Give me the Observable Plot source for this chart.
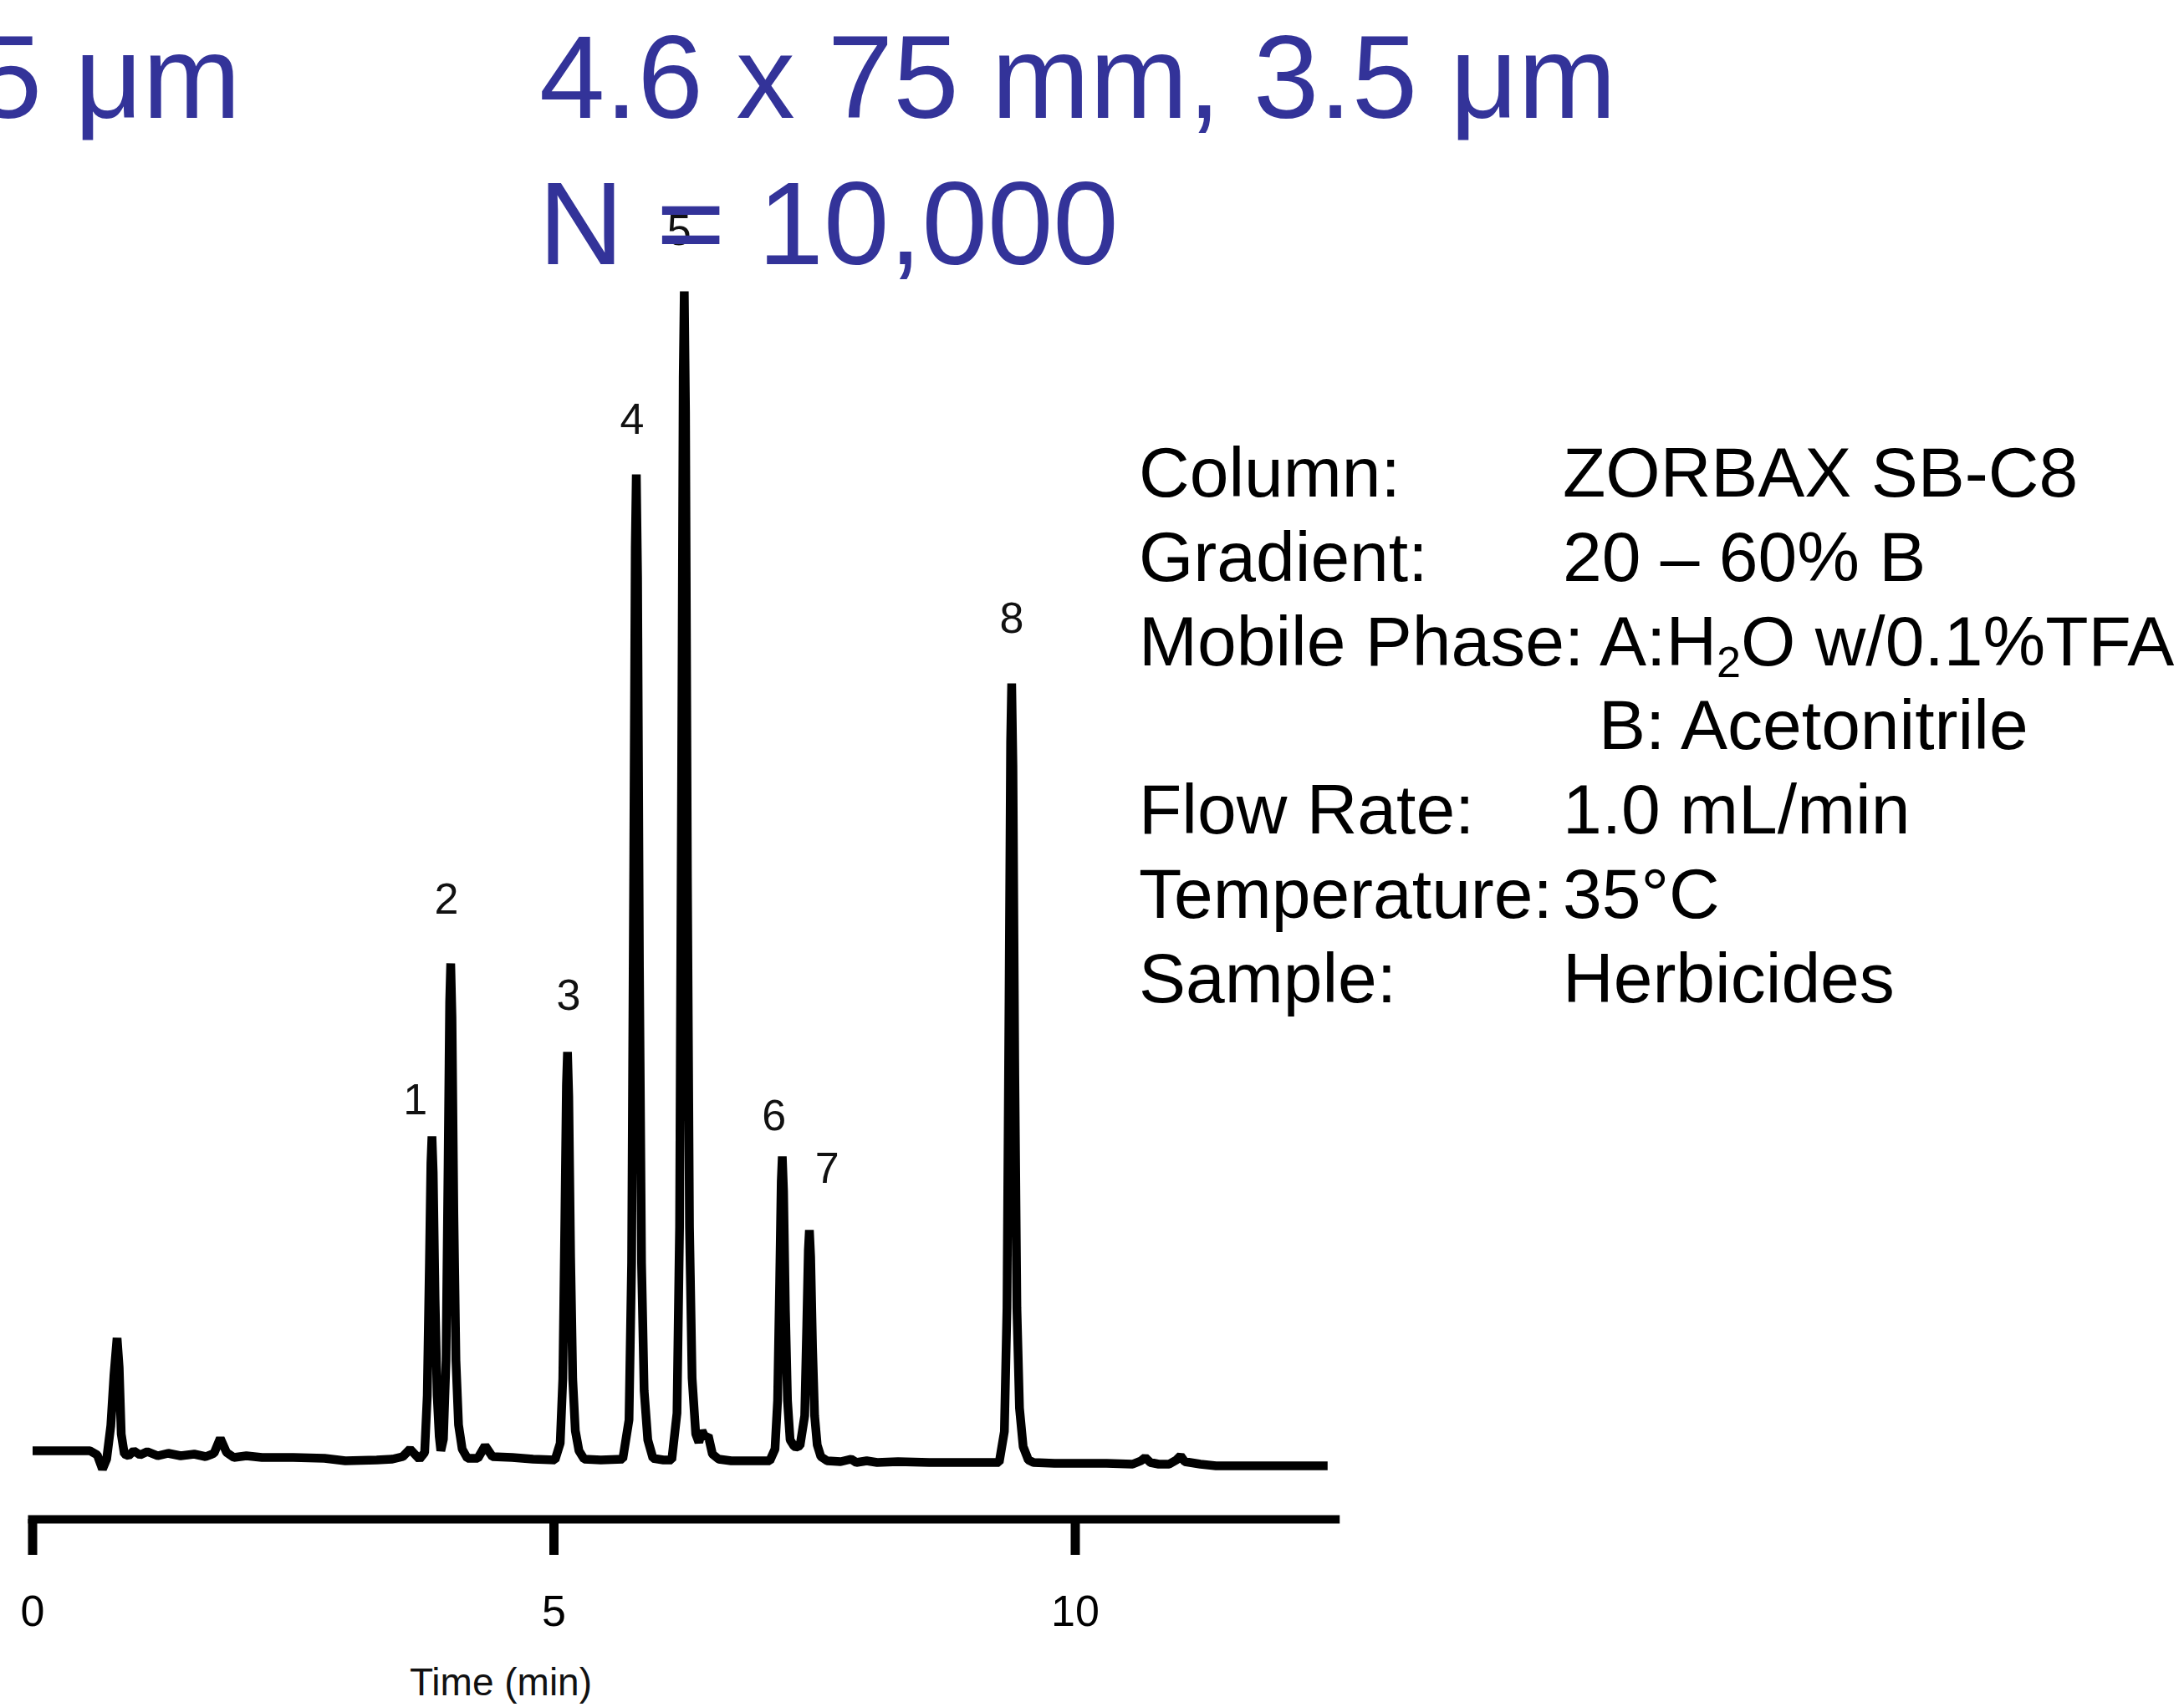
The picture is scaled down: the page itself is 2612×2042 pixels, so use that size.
<!DOCTYPE html>
<html>
<head>
<meta charset="utf-8">
<script src="https://cdn.jsdelivr.net/npm/d3@7"></script>
<script src="https://cdn.jsdelivr.net/npm/@observablehq/plot@0.6"></script>
<style>
  html, body { margin: 0; padding: 0; background: #fff; }
  #page { position: relative; width: 2612px; height: 2042px; overflow: hidden;
          font-family: "Liberation Sans", Arial, Helvetica, sans-serif; }
  #chart { position: absolute; left: 0; top: 0; }
  .title { position: absolute; color: #333399; font-size: 141px; line-height: 141px; white-space: nowrap; }
  #conditions { position: absolute; left: 1362px; top: 515px; font-size: 84px; line-height: 100.8px; color: #000; }
  #conditions .row { white-space: nowrap; height: 100.8px; }
  #conditions .k { display: inline-block; min-width: 507px; }
  #conditions sub { font-size: 0.62em; vertical-align: baseline; position: relative; top: 0.28em; line-height: 0; }
</style>
</head>
<body>
<div id="page">
  <div id="chart"></div>
  <div class="title" id="t0" style="right: 2324px; top: 22px;"></div>
  <div class="title" id="t1" style="left: 645px; top: 22px;"></div>
  <div class="title" id="t2" style="left: 644px; top: 197px;"></div>
  <div id="conditions"></div>
</div>
<script>
// Column headings shown above the trace
const titleLines = ["5 μm", "4.6 x 75 mm, 3.5 μm", "N = 10,000"];

// Method conditions
const conditionLabels = ["Column:", "Gradient:", "Mobile Phase:", "", "Flow Rate:", "Temperature:", "Sample:"];
const conditionValues = ["ZORBAX SB-C8", "20 – 60% B", "A:H2O w/0.1%TFA", "B: Acetonitrile", "1.0 mL/min", "35°C", "Herbicides"];

// Detector trace: retention time (min) and signal (arbitrary absorbance units)
const time = [
  0, 0.3, 0.55, 0.62, 0.67, 0.71, 0.75, 0.78, 0.81, 0.83, 0.85, 0.88, 0.92, 0.97,
  1.03, 1.1, 1.2, 1.3, 1.42, 1.55, 1.66, 1.74, 1.8, 1.86, 1.93, 2.05, 2.2, 2.5, 2.8,
  3.0, 3.3, 3.45, 3.55, 3.62, 3.68, 3.71, 3.76, 3.785, 3.805, 3.82, 3.83, 3.842, 3.86,
  3.88, 3.9, 3.915, 3.94, 3.965, 3.985, 4.0, 4.01, 4.022, 4.04, 4.06, 4.085, 4.12, 4.17,
  4.27, 4.34, 4.41, 4.6, 4.8, 5.01, 5.06, 5.085, 5.105, 5.12, 5.13, 5.142, 5.16, 5.18,
  5.205, 5.24, 5.29, 5.45, 5.66, 5.72, 5.745, 5.765, 5.78, 5.79, 5.802, 5.82, 5.84,
  5.865, 5.9, 5.95, 6.05, 6.13, 6.18, 6.205, 6.225, 6.24, 6.25, 6.262, 6.28, 6.3,
  6.325, 6.36, 6.39, 6.42, 6.45, 6.48, 6.52, 6.58, 6.7, 6.9, 7.07, 7.12, 7.145, 7.165,
  7.18, 7.19, 7.202, 7.22, 7.24, 7.265, 7.3, 7.32, 7.36, 7.405, 7.425, 7.44, 7.45,
  7.462, 7.48, 7.5, 7.525, 7.56, 7.62, 7.75, 7.85, 7.9, 8.0, 8.1, 8.3, 8.6, 8.9, 9.15,
  9.27, 9.32, 9.345, 9.365, 9.38, 9.39, 9.402, 9.42, 9.44, 9.465, 9.5, 9.55, 9.6, 9.8,
  10.0, 10.3, 10.55, 10.63, 10.67, 10.72, 10.8, 10.9, 10.97, 11.01, 11.05, 11.1, 11.2,
  11.35, 12.0, 12.42
];
const signal = [
  0, 0, 0, -0.5, -2.2, -1.0, 3.0, 9.0, 13.5, 10.0, 2.0, -0.4, -0.6, 0.0,
  -0.5, -0.1, -0.6, -0.3, -0.6, -0.4, -0.7, -0.3, 1.5, -0.2, -0.8, -0.6, -0.8, -0.8, -0.9,
  -1.2, -1.1, -1.0, -0.7, 0.2, -0.6, -1.0, -0.2, 6.6, 21.9, 34.4, 37.6, 33.3, 18.1,
  6.6, 1.7, 0.0, 1.4, 10.8, 34.3, 53.7, 58.3, 51.9, 28.4, 10.8, 3.1, 0.2, -0.9,
  -0.9, 0.6, -0.7, -0.8, -1.0, -1.1, 0.9, 8.6, 27.9, 43.8, 47.7, 42.4, 23.1, 8.6,
  2.4, 0.0, -1.0, -1.1, -1.0, 3.7, 22.5, 69.4, 108.1, 116.8, 104.6, 57.7, 22.5,
  7.2, 1.3, -0.9, -1.1, -1.1, 4.5, 26.8, 82.5, 128.5, 138.7, 124.3, 68.6, 26.8,
  8.7, 2.0, 1.0, 2.4, 1.6, 1.8, -0.4, -1.0, -1.2, -1.2, -1.2, 0.2, 6.0, 20.3,
  32.2, 35.2, 31.1, 16.8, 6.0, 1.3, 0.6, 0.4, 0.6, 4.2, 15.1, 24.0, 26.4,
  23.2, 12.4, 4.2, 0.7, -0.7, -1.2, -1.3, -1.0, -1.4, -1.2, -1.4, -1.3, -1.4, -1.4, -1.4,
  -1.4, 2.3, 17.1, 54.2, 84.8, 91.8, 82.0, 45.0, 17.1, 5.1, 0.5, -1.1, -1.4, -1.5,
  -1.5, -1.5, -1.6, -1.2, -0.8, -1.4, -1.6, -1.6, -1.1, -0.6, -1.3, -1.4, -1.6,
  -1.8, -1.8, -1.8
];

// Peak numbers and where their labels sit (time, signal)
const peakNumber = ["1", "2", "3", "4", "5", "6", "7", "8"];
const labelTime = [3.67, 3.97, 5.14, 5.75, 6.20, 7.11, 7.62, 9.39];
const labelSignal = [41.9, 65.9, 54.4, 123.3, 145.9, 40.0, 33.7, 99.5];

// Time axis
const timeDomain = [0, 12.5];
const timeTicks = [0, 5, 10];
const signalDomain = [-8.2, 150];
const axisTitle = "Time (min)";

// Headings
document.getElementById("t0").textContent = titleLines[0];
document.getElementById("t1").textContent = titleLines[1];
document.getElementById("t2").textContent = titleLines[2];

// Conditions table: labels in a fixed-width column, values aligned after it
const cond = document.getElementById("conditions");
conditionLabels.forEach((label, i) => {
  const row = document.createElement("div");
  row.className = "row";
  const k = document.createElement("span");
  k.className = "k";
  k.textContent = label;
  const v = document.createElement("span");
  v.innerHTML = conditionValues[i].replace("H2O", "H<sub>2</sub>O");
  if (label === "") v.style.paddingLeft = "43px";
  row.appendChild(k);
  row.appendChild(v);
  cond.appendChild(row);
  // a label longer than the column is followed by a normal word space
  if (k.getBoundingClientRect().width > 507.5) row.insertBefore(document.createTextNode(" "), v);
});

const trace = time.map((t, i) => ({t, v: signal[i]}));
const peaks = peakNumber.map((n, i) => ({n, t: labelTime[i], v: labelSignal[i]}));

const chart = Plot.plot({
  width: 2612,
  height: 2042,
  marginLeft: 38.5,
  marginRight: 1014.75,
  marginTop: 235,
  marginBottom: 225,
  x: {domain: timeDomain},
  y: {domain: signalDomain, axis: null},
  style: {fontFamily: '"Liberation Sans", Arial, Helvetica, sans-serif', background: "transparent", color: "#000", overflow: "visible"},
  marks: [
    Plot.ruleY([signalDomain[0]], {stroke: "#000", strokeWidth: 10, strokeLinecap: "square"}),
    Plot.axisX({ticks: timeTicks, tickSize: 43, tickPadding: 48, strokeWidth: 11, fontSize: 52, label: null, tickFormat: d => String(d)}),
    Plot.line(trace, {x: "t", y: "v", stroke: "#000", strokeWidth: 10.5, strokeLinejoin: "bevel", strokeLinecap: "butt"}),
    Plot.text(peaks, {x: "t", y: "v", text: "n", fontSize: 52, fill: "#111", lineAnchor: "middle"}),
    Plot.text([axisTitle], {frameAnchor: "bottom-left", textAnchor: "middle", lineAnchor: "middle", dx: 560, dy: 196, fontSize: 46, fill: "#111"})
  ]
});
document.getElementById("chart").appendChild(chart);
</script>
</body>
</html>
